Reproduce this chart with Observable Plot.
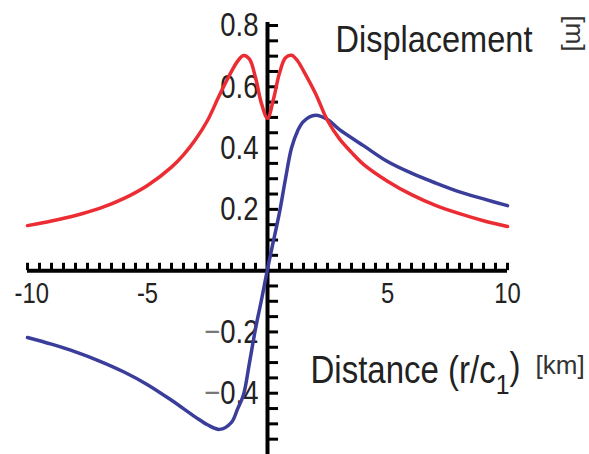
<!DOCTYPE html>
<html><head><meta charset="utf-8">
<script src="https://cdn.jsdelivr.net/npm/d3@7"></script>
<script src="https://cdn.jsdelivr.net/npm/@observablehq/plot@0.6"></script>
<style>body{margin:0;background:#fff;overflow:hidden}</style>
</head><body><div id="chart"></div>
<script>
// Red curve (magnitude)
const redX = [-10,-9,-8,-7,-6,-5,-4,-3.5,-3,-2.5,-2,-1.5,-1.25,-1,-0.75,-0.5,-0.25,0,0.25,0.5,0.75,1,1.25,1.5,2,2.5,3,3.5,4,5,6,7,8,9,10];
const redY = [0.147,0.162,0.18,0.203,0.235,0.278,0.338,0.378,0.428,0.49,0.573,0.65,0.683,0.702,0.69,0.63,0.545,0.497,0.56,0.645,0.695,0.703,0.685,0.652,0.578,0.49,0.43,0.386,0.347,0.292,0.248,0.213,0.186,0.163,0.144];
// Blue curve
const blueX = [-10,-9,-8,-7,-6,-5,-4,-3,-2.5,-2,-1.5,-1.25,-1,-0.75,-0.5,-0.25,0,0.25,0.5,0.75,1,1.25,1.5,2,2.5,3,4,5,6,7,8,9,10];
const blueY = [-0.218,-0.24,-0.265,-0.295,-0.33,-0.372,-0.423,-0.478,-0.503,-0.518,-0.495,-0.452,-0.405,-0.3,-0.19,-0.095,0.005,0.098,0.19,0.3,0.40,0.455,0.487,0.507,0.493,0.46,0.408,0.356,0.318,0.286,0.257,0.234,0.212];
// Tick labels
const xTickValues = [-10, -5, 5, 10];
const xTickLabels = ["-10", "-5", "5", "10"];
const yTickValues = [0.8, 0.6, 0.4, 0.2, -0.2, -0.4];
const yTickLabels = ["0.8", "0.6", "0.4", "0.2", "\u22120.2", "\u22120.4"];
const xMinor = d3.range(-20, 21).map(i => i / 2).filter(v => v !== 0);
const yMinor = d3.range(-11, 17).map(i => i / 20).filter(v => Math.abs(v) > 1e-9);

const red = redX.map((x, i) => ({x, y: redY[i]}));
const blue = blueX.map((x, i) => ({x, y: blueY[i]}));
const xt = xTickValues.map((v, i) => ({v, label: xTickLabels[i]}));
const yt = yTickValues.map((v, i) => ({v, label: yTickLabels[i]}));

const sans = "'Liberation Sans', Arial, sans-serif";
const txt = "#222";

const chart = Plot.plot({
  width: 589, height: 454,
  marginLeft: 27, marginRight: 82, marginTop: 25, marginBottom: 0,
  x: {domain: [-10, 10], axis: null},
  y: {domain: [-0.6, 0.8], axis: null},
  style: {fontFamily: sans, background: "#fff", overflow: "visible"},
  marks: [
    Plot.ruleY([0], {x1: -10, x2: 10, stroke: "black", strokeWidth: 4}),
    Plot.ruleX([0], {y1: -0.6, y2: 0.81, stroke: "black", strokeWidth: 4}),
    Plot.ruleX(xMinor, {x: d => d, y1: 0, y2: 0.024, stroke: "black", strokeWidth: 3}),
    Plot.ruleY(yMinor, {y: d => d, x1: 0, x2: 0.46, stroke: "black", strokeWidth: 3}),
    Plot.text(xt.filter(d => d.v !== -10), {x: "v", y: 0, text: "label", dy: 23, fontSize: 29, fill: txt, lineAnchor: "middle"}),
    Plot.text(xt.filter(d => d.v === -10), {x: "v", y: 0, text: "label", dy: 23, dx: -13, textAnchor: "start", fontSize: 29, fill: txt, lineAnchor: "middle"}),
    Plot.text(yt, {x: 0, y: "v", text: "label", dx: -9, textAnchor: "end", fontSize: 33.5, fill: txt, lineAnchor: "middle"}),
    Plot.line(blue, {x: "x", y: "y", stroke: "#3a3e9a", strokeWidth: 3.5, curve: "catmull-rom"}),
    Plot.line(red, {x: "x", y: "y", stroke: "#ec2c33", strokeWidth: 3.5, curve: "catmull-rom"}),
    Plot.text(["Displacement"], {x: 2.83, y: 0.712, textAnchor: "start", lineAnchor: "bottom", fontSize: 37, fill: txt}),
    Plot.text(["Distance (r/c1)"], {x: 1.79, y: -0.366, textAnchor: "start", lineAnchor: "bottom", fontSize: 38, fill: txt}),
    Plot.text(["[km]"], {x: 11.17, y: -0.336, textAnchor: "start", lineAnchor: "bottom", fontSize: 26, fill: "#333"}),
    Plot.text(["[m]"], {x: 12.8, y: 0.774, rotate: 90, textAnchor: "middle", lineAnchor: "middle", fontSize: 26, fill: "#333"})
  ]
});

document.getElementById("chart").appendChild(chart);

// narrow text: subscript, gray minus signs, condensed widths
const targets = {"Displacement": 197, "Distance (r/c1)": 210};
d3.select(chart).selectAll("text").each(function() {
  const t = this.textContent;
  const s = d3.select(this);
  if (t === "[km]" || t === "[m]") return;
  const w = this.getComputedTextLength();
  if (t === "Distance (r/c1)") {
    s.text(null);
    s.append("tspan").text("Distance (r/c");
    s.append("tspan").attr("dy", "0.4em").attr("font-size", "0.75em").text("1");
    s.append("tspan").attr("dy", "-0.4em").text(")");
  } else if (t.startsWith("\u2212")) {
    s.text(null);
    s.append("tspan").attr("fill", "#777").text("\u2212");
    s.append("tspan").text(t.slice(1));
  }
  const L = targets[t] || w * 0.82;
  s.attr("textLength", L).attr("lengthAdjust", "spacingAndGlyphs");
});
</script>
</body></html>
